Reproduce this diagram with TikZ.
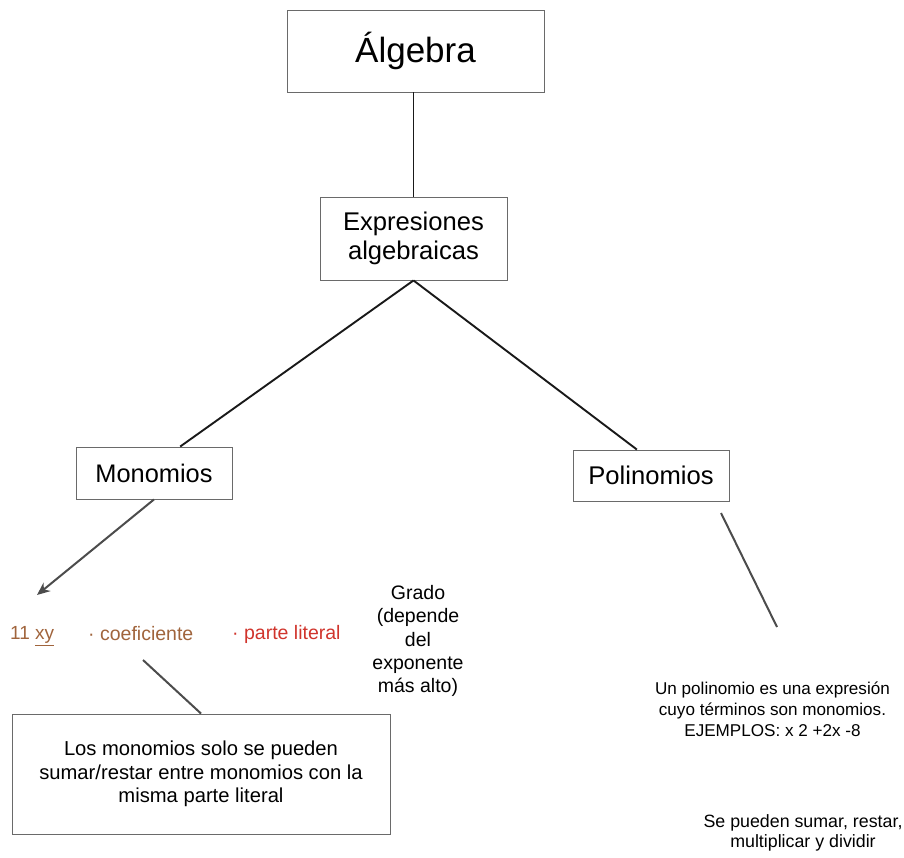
\documentclass[tikz,border=0pt]{standalone}
\usepackage{fontspec}
\setmainfont{Liberation Sans}
\usetikzlibrary{arrows.meta,calc}
\definecolor{brownish}{HTML}{A0643C}
\definecolor{redish}{HTML}{D0342C}
\definecolor{boxline}{HTML}{6A6A6A}
\begin{document}
\begin{tikzpicture}[x=1pt,y=-1pt,
  box/.style={draw=boxline,line width=0.9pt,fill=white,inner sep=0pt,align=center},
  conn/.style={line width=1.9pt,draw=black!90},
  soft/.style={line width=2pt,draw=black!70},
  txt/.style={inner sep=0pt,align=center}]
\useasboundingbox (0,0) rectangle (904,858);
% boxes
\node[box,minimum width=257pt,minimum height=82pt,font=\fontsize{35}{40}\selectfont] (alg) at (415.5,51) {Álgebra};
\node[box,minimum width=187pt,minimum height=83pt,font=\fontsize{25.6}{29}\selectfont] (exp) at (413.5,238.5) {Expresiones\\algebraicas};
\node[box,minimum width=156pt,minimum height=52pt,font=\fontsize{25.4}{29}\selectfont] (mon) at (154,473) {Monomios};
\node[box,minimum width=156pt,minimum height=51pt,font=\fontsize{25.6}{29}\selectfont] (pol) at (651,475.5) {Polinomios};
\node[box,minimum width=378pt,minimum height=120pt,font=\fontsize{20.2}{23.5}\selectfont] (note) at (201,774) {Los monomios solo se pueden\\sumar/restar entre monomios con la\\misma parte literal};
% free texts
\node[txt,anchor=west,text=brownish,font=\fontsize{19}{23}\selectfont] (ex) at (10,636) {11 \underline{xy}};
\node[txt,anchor=west,text=brownish,font=\fontsize{19.5}{23}\selectfont] (coef) at (88,634) {· coeficiente};
\node[txt,anchor=west,text=redish,font=\fontsize{19.5}{23}\selectfont] (lit) at (232,634) {· parte literal};
\node[txt,font=\fontsize{19.5}{23.4}\selectfont] (grado) at (418,641) {Grado\\(depende\\del\\exponente\\más alto)};
\node[txt,font=\fontsize{17.1}{21}\selectfont] (poltxt) at (772.5,709) {Un polinomio es una expresión\\cuyo términos son monomios.\\EJEMPLOS: x 2 +2x -8};
\node[txt,font=\fontsize{17.8}{20.5}\selectfont] (ops) at (803,833) {Se pueden sumar, restar,\\multiplicar y dividir};
% connectors
\coordinate (arrEnd) at (37,595);
\coordinate (polA) at (721,513);
\coordinate (polB) at (777,627);
\coordinate (noteA) at (143,660);
\draw[conn] (exp.north |- alg.south) -- (exp.north);
\draw[conn] (exp.south) -- ($(mon.north west)!0.667!(mon.north east)$);
\draw[conn] (exp.south) -- ($(pol.north west)!0.41!(pol.north east)$);
\draw[soft,-{Stealth[length=13pt,width=11pt]}] (mon.south) -- (arrEnd);
\draw[soft] (polA) -- (polB);
\draw[soft] (noteA) -- (note.north);
\end{tikzpicture}
\end{document}
